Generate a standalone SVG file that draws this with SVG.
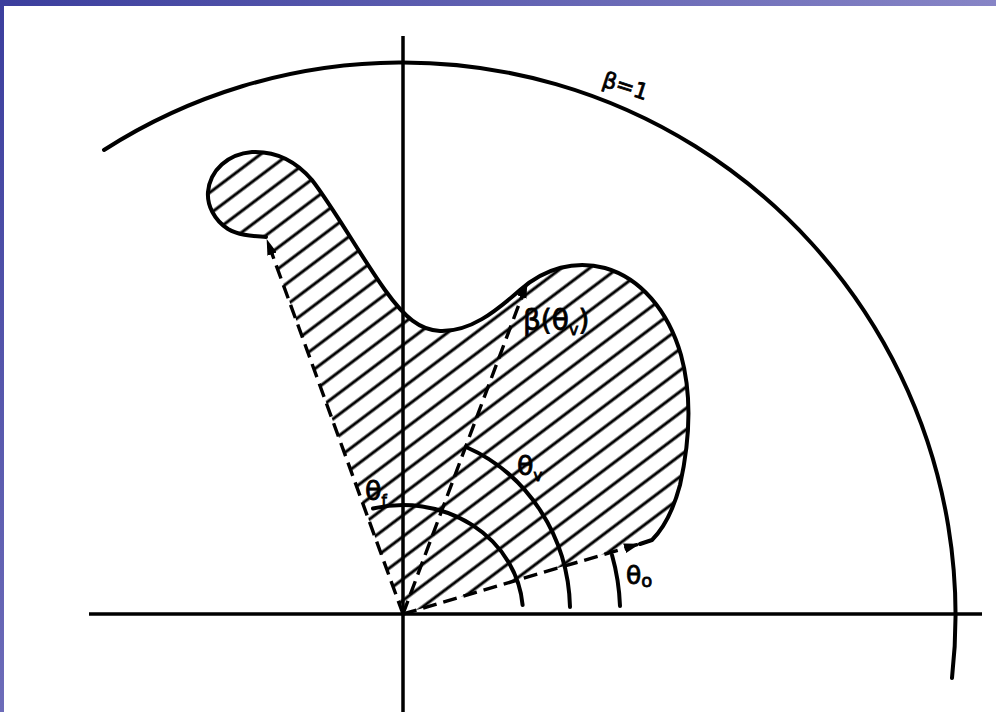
<svg xmlns="http://www.w3.org/2000/svg" width="996" height="712" viewBox="0 0 996 712">
  <defs>
    <linearGradient id="gTop" x1="0" y1="0" x2="1" y2="0">
      <stop offset="0" stop-color="#3b3e9d"/>
      <stop offset="1" stop-color="#8785c6"/>
    </linearGradient>
    <linearGradient id="gLeft" x1="0" y1="0" x2="0" y2="1">
      <stop offset="0" stop-color="#3b3e9d"/>
      <stop offset="1" stop-color="#6d6cb9"/>
    </linearGradient>
    <pattern id="hatch" patternUnits="userSpaceOnUse" width="40" height="17" patternTransform="rotate(-37)">
      <line x1="0" y1="8" x2="40" y2="8" stroke="#000" stroke-width="3"/>
    </pattern>
    <marker id="arr" viewBox="0 0 16 10" refX="15" refY="5" markerWidth="16" markerHeight="10" markerUnits="userSpaceOnUse" orient="auto">
      <path d="M0,0 L16,5 L0,10 Z" fill="#000"/>
    </marker>
    <style>
      .solid { fill: none; stroke: #000; stroke-width: 4; stroke-linecap: round; stroke-linejoin: round; }
      .axis { fill: none; stroke: #000; stroke-width: 3.5; }
      .dash { fill: none; stroke: #000; stroke-width: 3.4; stroke-dasharray: 14 7; }
      .lbl { font-family: "DejaVu Sans", "Liberation Sans", sans-serif; fill: #000; stroke: #000; stroke-width: 0.8; }
    </style>
  </defs>

  <rect x="0" y="0" width="996" height="712" fill="#ffffff"/>
  <rect x="0" y="0" width="996" height="6" fill="url(#gTop)"/>
  <rect x="0" y="0" width="4" height="712" fill="url(#gLeft)"/>

  <g id="region">
    <path fill="url(#hatch)" stroke="none" d="M 403 614 L 266 237 C 255 236, 240 236, 228 229 C 214 220, 207 205, 208 192 C 210 170, 228 154, 252 152 C 275 151, 295 160, 312 180 C 335 210, 360 255, 385 290 C 405 318, 420 330, 440 331 C 470 332, 495 312, 520 290 C 545 268, 575 260, 605 268 C 640 278, 668 310, 681 355 C 692 395, 690 440, 680 485 C 672 515, 662 530, 652 540 L 638 544 Z"/>
    <path class="solid" d="M 266 237 C 255 236, 240 236, 228 229 C 214 220, 207 205, 208 192 C 210 170, 228 154, 252 152 C 275 151, 295 160, 312 180 C 335 210, 360 255, 385 290 C 405 318, 420 330, 440 331 C 470 332, 495 312, 520 290 C 545 268, 575 260, 605 268 C 640 278, 668 310, 681 355 C 692 395, 690 440, 680 485 C 672 515, 662 530, 652 540 L 640 544"/>
  </g>

  <g id="axes">
    <line class="axis" x1="89" y1="614" x2="982" y2="614"/>
    <line class="axis" x1="403" y1="36" x2="403" y2="712"/>
  </g>

  <g id="unit-circle">
    <path class="solid" d="M 104 150 A 553 553 0 0 1 952 678"/>
    <text class="lbl" font-size="22" transform="translate(601,86) rotate(18)">β=1</text>
  </g>

  <g id="connectors">
    <line class="dash" x1="403" y1="614" x2="267" y2="240" marker-end="url(#arr)"/>
    <line class="dash" x1="403" y1="614" x2="527" y2="283" marker-end="url(#arr)"/>
    <line class="dash" x1="403" y1="614" x2="639" y2="544" marker-end="url(#arr)"/>
  </g>

  <g id="angle-f">
    <path class="solid" d="M 373 508.5 A 120 109 0 0 1 522.6 605"/>
    <text class="lbl" x="365" y="500" font-size="27">θ<tspan font-size="15" dy="6">f</tspan></text>
  </g>
  <g id="angle-v">
    <path class="solid" d="M 466 447 A 168 178 0 0 1 570 607"/>
    <text class="lbl" x="517" y="475" font-size="27">θ<tspan font-size="15" dy="6">v</tspan></text>
  </g>
  <g id="angle-o">
    <path class="solid" d="M 612 555 A 217 217 0 0 1 620 606"/>
    <text class="lbl" x="626" y="584" font-size="25">θ<tspan font-size="18" dy="3">o</tspan></text>
  </g>
  <g id="beta-label">
    <text class="lbl" x="523" y="330" font-size="28">β(θ<tspan font-size="16" dy="5">v</tspan><tspan dy="-5">)</tspan></text>
  </g>
</svg>
